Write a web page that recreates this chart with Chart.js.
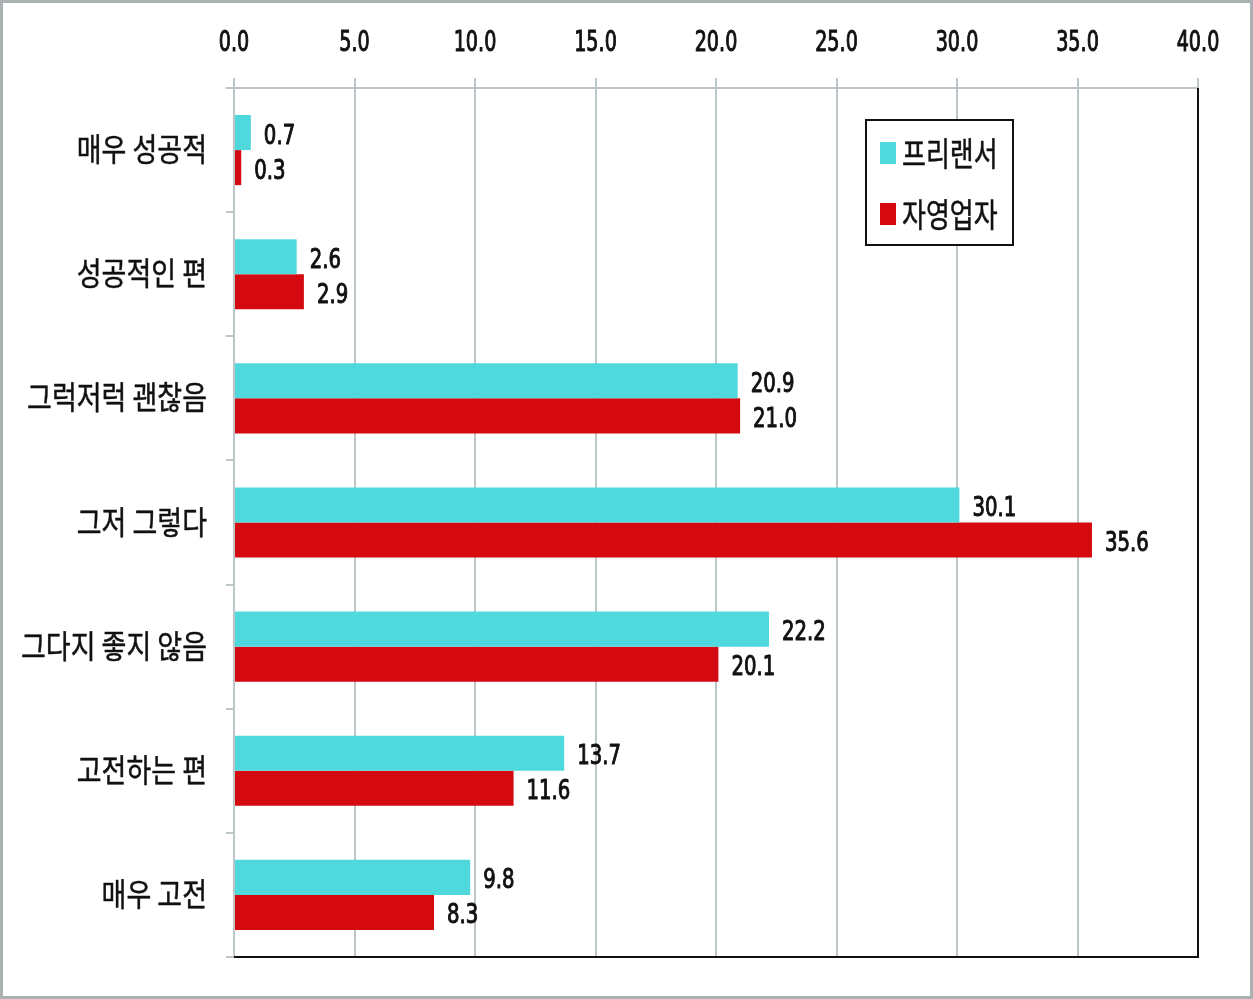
<!DOCTYPE html>
<html>
<head>
<meta charset="utf-8">
<script src="https://cdn.jsdelivr.net/npm/chart.js@4.4.1/dist/chart.umd.min.js"></script>
<style>
  html, body { margin: 0; padding: 0; background: #fff; }
  canvas { display: block; }
</style>
</head>
<body>
<canvas id="chart" width="1253" height="999"></canvas>
<script>
// 데이터
const categories = ['매우 성공적', '성공적인 편', '그럭저럭 괜찮음', '그저 그렇다', '그다지 좋지 않음', '고전하는 편', '매우 고전'];
const freelancer = [0.7, 2.6, 20.9, 30.1, 22.2, 13.7, 9.8];
const selfEmployed = [0.3, 2.9, 21.0, 35.6, 20.1, 11.6, 8.3];
const seriesNames = ['프리랜서', '자영업자'];
const xTickValues = [0, 5, 10, 15, 20, 25, 30, 35, 40];

const NARROW = '"Liberation Sans Narrow", "DejaVu Sans Condensed", sans-serif';
const KR = '"Noto Sans CJK KR", "Noto Sans", sans-serif';
const GRID = '#bcc6c8';
const HIDDEN = 'rgba(0,0,0,0)';

// 원본 글꼴이 좁고 길쭉해서 가로/세로 비율을 조정해서 그림
// weight > 0 이면 외곽선을 살짝 그려서 굵기를 보정
function drawText(ctx, text, x, y, font, sx, sy, align, weight = 0) {
  ctx.save();
  ctx.translate(x, y);
  ctx.scale(sx, sy);
  ctx.font = font;
  ctx.textAlign = align;
  ctx.textBaseline = 'middle';
  ctx.fillStyle = '#111';
  ctx.fillText(text, 0, 0);
  if (weight > 0) {
    ctx.strokeStyle = '#111';
    ctx.lineWidth = weight;
    ctx.lineJoin = 'round';
    ctx.strokeText(text, 0, 0);
  }
  ctx.restore();
}

// 바깥 테두리, 오른쪽/아래 검은 선
const frame = {
  id: 'frame',
  beforeDraw(chart) {
    const { ctx, width, height } = chart;
    ctx.save();
    ctx.fillStyle = '#fff';
    ctx.fillRect(0, 0, width, height);
    ctx.strokeStyle = '#a9b1b2';
    ctx.lineWidth = 3;
    ctx.strokeRect(1.5, 1.5, width - 3, height - 3);
    ctx.restore();
  },
  afterDatasetsDraw(chart) {
    const { ctx, chartArea: { left, right, top, bottom } } = chart;
    ctx.save();
    ctx.strokeStyle = '#111';
    ctx.lineWidth = 2;
    ctx.beginPath();
    ctx.moveTo(right, top);
    ctx.lineTo(right, bottom);
    ctx.lineTo(left, bottom);
    ctx.stroke();
    ctx.restore();
  },
};

// 축 눈금 글자
const axisText = {
  id: 'axisText',
  afterDraw(chart) {
    const { ctx, scales: { x, y } } = chart;
    x.ticks.forEach((t) => {
      drawText(ctx, Number(t.value).toFixed(1), x.getPixelForValue(t.value), 44,
        '28px ' + NARROW, 0.76, 1, 'center', 1.0);
    });
    categories.forEach((c, i) => {
      drawText(ctx, c, y.left + y.width - 27, y.getPixelForValue(i) - 1,
        '27px ' + KR, 1, 1.18, 'right', 0.4);
    });
  },
};

// 막대 끝 값 표시
const valueLabels = {
  id: 'valueLabels',
  afterDatasetsDraw(chart) {
    const { ctx } = chart;
    chart.data.datasets.forEach((ds, i) => {
      chart.getDatasetMeta(i).data.forEach((bar, j) => {
        drawText(ctx, ds.data[j].toFixed(1), bar.x + 13, bar.y + 4, '27px ' + NARROW, 0.81, 1, 'left', 1.0);
      });
    });
  },
};

// 범례 (차트 영역 안쪽 상자)
const boxLegend = {
  id: 'boxLegend',
  afterDraw(chart) {
    const { ctx, chartArea: { right, top } } = chart;
    const bx = right - 332, by = top + 32, bw = 147, bh = 125;
    ctx.save();
    ctx.fillStyle = '#fff';
    ctx.fillRect(bx, by, bw, bh);
    ctx.strokeStyle = '#111';
    ctx.lineWidth = 2;
    ctx.strokeRect(bx, by, bw, bh);
    chart.data.datasets.forEach((ds, i) => {
      const cy = by + 33 + i * 61;
      ctx.fillStyle = ds.backgroundColor;
      ctx.fillRect(bx + 14, cy - 11, 16, 22);
      drawText(ctx, ds.label, bx + 36, cy + 1, '26px ' + KR, 1, 1.25, 'left', 0.4);
    });
    ctx.restore();
  },
};

new Chart(document.getElementById('chart'), {
  type: 'bar',
  data: {
    labels: categories,
    datasets: [
      { label: seriesNames[0], data: freelancer, backgroundColor: '#50d9dd', categoryPercentage: 0.565, barPercentage: 1.0 },
      { label: seriesNames[1], data: selfEmployed, backgroundColor: '#d40a10', categoryPercentage: 0.565, barPercentage: 1.0 },
    ],
  },
  options: {
    indexAxis: 'y',
    responsive: false,
    animation: false,
    layout: { padding: { left: 0, right: 55, top: 0, bottom: 42 } },
    plugins: {
      legend: { display: false },
      tooltip: { enabled: false },
    },
    scales: {
      x: {
        position: 'top',
        min: 0,
        max: 40,
        afterBuildTicks: (scale) => { scale.ticks = xTickValues.map((v) => ({ value: v })); },
        afterFit: (scale) => { scale.height = 88; },
        ticks: { color: HIDDEN, font: { family: NARROW, size: 24 }, maxRotation: 0 },
        grid: { color: GRID, lineWidth: 2, tickLength: 10 },
        border: { color: GRID, width: 2 },
      },
      y: {
        afterFit: (scale) => { scale.width = 234; },
        ticks: { color: HIDDEN, font: { family: KR, size: 27 }, padding: 18 },
        grid: { drawOnChartArea: false, color: GRID, lineWidth: 2, tickLength: 8 },
        border: { color: GRID, width: 2 },
      },
    },
  },
  plugins: [frame, valueLabels, axisText, boxLegend],
});
</script>
</body>
</html>
